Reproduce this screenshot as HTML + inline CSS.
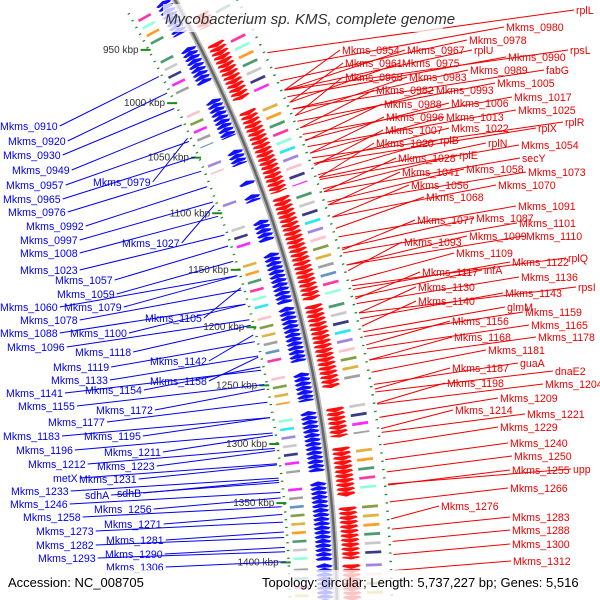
<!DOCTYPE html>
<html><head><meta charset="utf-8"><style>
html,body{margin:0;padding:0;background:#fff;}
svg{display:block;font-family:"Liberation Sans",sans-serif;}
</style></head><body>
<svg id="map" width="600" height="600" viewBox="0 0 600 600" xmlns="http://www.w3.org/2000/svg">
<g id="tracks"></g>
<g id="lines"></g>
<g id="labels"></g>
<rect x="163" y="4" width="280" height="28" fill="#fff" opacity="0.75"/>
<text x="310" y="24" text-anchor="middle" font-size="15" font-style="italic" fill="#333">Mycobacterium sp. KMS, complete genome</text>
<rect x="0" y="570" width="600" height="30" fill="#fff" opacity="0.75"/>
<text x="8" y="587" font-size="13" fill="#000">Accession: NC_008705</text>
<text x="262" y="587" font-size="13" fill="#000">Topology: circular; Length: 5,737,227 bp; Genes: 5,516</text>
</svg>
<script>
const minusSegs=[[920,951],[963,996],[1010,1044],[1055,1068],[1082,1086],[1094,1100],[1116,1134],[1144,1187],[1190,1236],[1245,1269],[1277,1327],[1335,1400],[1402,1435]];
const plusSegs=[[944,956],[970,1020],[1030,1100],[1104,1190],[1194,1262],[1278,1302],[1310,1350],[1358,1400],[1404,1435]];
const tickKbp=[950,1000,1050,1100,1150,1200,1250,1300,1350,1400];
const blueNames=["Mkms_0910","Mkms_0920","Mkms_0930","Mkms_0949","Mkms_0957","Mkms_0965","Mkms_0976","Mkms_0979","Mkms_0992","Mkms_0997","Mkms_1008","Mkms_1023","Mkms_1027","Mkms_1057","Mkms_1059","Mkms_1060","Mkms_1079","Mkms_1078","Mkms_1088","Mkms_1100","Mkms_1105","Mkms_1096","Mkms_1118","Mkms_1119","Mkms_1142","Mkms_1133","Mkms_1158","Mkms_1141","Mkms_1154","Mkms_1155","Mkms_1172","Mkms_1177","Mkms_1183","Mkms_1195","Mkms_1196","Mkms_1211","Mkms_1212","Mkms_1223","metX","Mkms_1231","Mkms_1233","Mkms_1246","sdhA","sdhB","Mkms_1256","Mkms_1258","Mkms_1271","Mkms_1273","Mkms_1281","Mkms_1282","Mkms_1290","Mkms_1293","Mkms_1306"];
const blueX=[0,8,3,12,6,3,8,93,26,20,20,20,122,55,57,0,64,20,0,70,145,7,75,53,150,51,150,6,85,18,96,48,3,84,16,104,28,97,53,79,11,10,85,117,94,23,104,36,106,36,105,38,106];
const blueY=[126,141,155,170,185,199,212,182,226,240,253,270,243,280,294,307,307,320,333,333,318,347,352,367,361,380,381,393,390,406,410,422,436,436,450,452,464,466,478,479,491,504,495,493,509,517,524,531,540,545,554,558,567];
const redNames=["rplL","Mkms_0980","Mkms_0978","Mkms_0954","Mkms_0967","rplU","Mkms_0990","rpsL","Mkms_0961","Mkms_0975","Mkms_0989","fabG","Mkms_0968","Mkms_0983","Mkms_1005","Mkms_0982","Mkms_0993","Mkms_1017","Mkms_0988","Mkms_1006","Mkms_1025","Mkms_0996","Mkms_1013","rplR","Mkms_1007","Mkms_1022","rplX","rplB","Mkms_1020","rplN","Mkms_1054","Mkms_1028","rplE","secY","Mkms_1041","Mkms_1058","Mkms_1073","Mkms_1056","Mkms_1070","Mkms_1068","Mkms_1091","Mkms_1077","Mkms_1087","Mkms_1101","Mkms_1093","Mkms_1099","Mkms_1110","Mkms_1109","rplQ","Mkms_1122","Mkms_1117","infA","Mkms_1136","Mkms_1130","Mkms_1143","rpsI","Mkms_1140","glmM","Mkms_1159","Mkms_1156","Mkms_1165","Mkms_1168","Mkms_1178","Mkms_1181","guaA","Mkms_1187","dnaE2","Mkms_1198","Mkms_1204","Mkms_1209","Mkms_1214","Mkms_1221","Mkms_1229","Mkms_1240","Mkms_1250","Mkms_1255","upp","Mkms_1266","Mkms_1276","Mkms_1283","Mkms_1288","Mkms_1300","Mkms_1312"];
const redX=[576,506,469,342,407,474,508,570,345,402,470,546,345,409,497,376,436,514,384,451,518,386,446,565,385,451,538,440,376,488,521,398,459,522,402,466,528,411,498,426,518,417,476,519,404,469,526,456,568,512,422,484,521,418,505,578,418,507,525,452,531,454,538,488,520,452,555,447,545,500,455,527,500,510,514,512,573,510,441,512,512,512,513];
const redY=[10,27,40,50,50,50,57,50,63,63,70,70,77,77,83,90,90,97,104,103,110,117,117,122,130,128,128,140,143,143,145,158,155,158,172,169,172,185,185,197,206,220,218,223,242,236,236,253,258,262,272,270,277,287,293,287,301,307,312,321,325,337,337,350,363,368,371,383,384,398,410,414,427,443,456,470,469,488,506,517,530,544,561];

const CX=-930,CY=620,R=1267,NS="http://www.w3.org/2000/svg";
function deg(k){return -27.86+(k-950)*0.0559;}
function pol(r,d){const a=d*Math.PI/180;return [CX+r*Math.cos(a),CY+r*Math.sin(a)];}
function pts(list){return list.map(p=>p[0].toFixed(1)+','+p[1].toFixed(1)).join(' ');}
function mk(tag,attrs,parent){const e=document.createElementNS(NS,tag);for(const k in attrs)e.setAttribute(k,attrs[k]);parent.appendChild(e);return e;}
const T=document.getElementById('tracks'),L=document.getElementById('lines'),LB=document.getElementById('labels');
const pal=['#ff00ff','#00e5ee','#ff8c00','#909090','#9370db','#2e8b57','#4682b4','#ffb6c1','#c0c0c0','#ff1493','#6b8e23','#191970','#7fffd4','#daa520'];

const bb=[];for(let k=900;k<=1450;k+=2)bb.push(pol(R,deg(k)));
let e=mk('polyline',{points:pts(bb),fill:'none',stroke:'#bbb','stroke-width':6},T);


e=mk('polyline',{points:pts(bb),fill:'none',stroke:'#666','stroke-width':2.5},T);



function genes(segs,strand,rIn,rOut,col,bIn,bOut){
  let gi=0;
  segs.forEach(s=>{
    for(let k=s[0];k<s[1]-1;k+=3.6){
      gi++;
      const a0=deg(k),a1=deg(Math.min(k+3.6,s[1])),h=(a1-a0)*0.6,rm=(rIn+rOut)/2;
      let p;
      if(strand<0)p=[pol(rIn,a1),pol(rOut,a1),pol(rOut+2,a0+h),pol(rm,a0),pol(rIn-2,a0+h)];
      else p=[pol(rIn,a0),pol(rOut,a0),pol(rOut+2,a1-h),pol(rm,a1),pol(rIn-2,a1-h)];
      const g=mk('polygon',{points:pts(p),fill:col},T);
      
      
      if(gi%2===0){
        const c=pal[(gi*5+Math.floor(k))%pal.length];
        const b=mk('polygon',{points:pts([pol(bIn,a0),pol(bOut,a0),pol(bOut,a0+(a1-a0)*0.6),pol(bIn,a0+(a1-a0)*0.6)]),fill:c,opacity:0.85},T);
        
        
      }
    }
  });
}
genes(minusSegs,-1,R-18,R-5,'#1010ff',R-42,R-28);
genes(plusSegs,1,R+8,R+23,'#ff1010',R+30,R+46);

for(let k=915;k<=1440;k+=6.5){
  [R-47,R+55].forEach(r=>{
    const d=mk('polyline',{points:pts([pol(r,deg(k)),pol(r,deg(k+1))]),stroke:'#1a8a1a','stroke-width':2.5,fill:'none'},T);
    
    
  });
}
tickKbp.forEach(k=>{
  const p=pol(R-47,deg(k));
  const t=mk('line',{x1:p[0]-8,y1:p[1],x2:p[0]+2,y2:p[1],stroke:'#1a8a1a','stroke-width':2},T);
  
  
  const tx=mk('text',{x:p[0]-10,y:p[1]+3,'text-anchor':'end','font-size':10,fill:'#333'},T);
  tx.textContent=k+' kbp';
  
  
});

function anchor(r,y){const s=Math.max(-0.99,(y-CY)/r);const a=Math.asin(s);return [CX+r*Math.cos(a),CY+r*Math.sin(a)];}
const FS=10.6;
blueNames.forEach((n,i)=>{
  const t=mk('text',{x:blueX[i],y:blueY[i]+4,'font-size':FS,fill:'#0000ee'},LB);
  t.textContent=n;
  
  
  const w=t.getComputedTextLength();
  const a=anchor(R-50,blueY[i]-0.1*(620-blueY[i]));
  const l=mk('line',{x1:blueX[i]+w+2,y1:blueY[i],x2:a[0],y2:a[1],stroke:'#0000ee','stroke-width':1},L);
  
  
});
redNames.forEach((n,i)=>{
  const t=mk('text',{x:redX[i],y:redY[i]+4,'font-size':FS,fill:'#ee0000'},LB);
  t.textContent=n;
  
  
  const a=anchor(R+58,redY[i]+0.06*(620-redY[i])+6);
  const l=mk('line',{x1:a[0],y1:a[1],x2:redX[i]-2,y2:redY[i],stroke:'#ee0000','stroke-width':1},L);
  
  
});
</script>
</body></html>
